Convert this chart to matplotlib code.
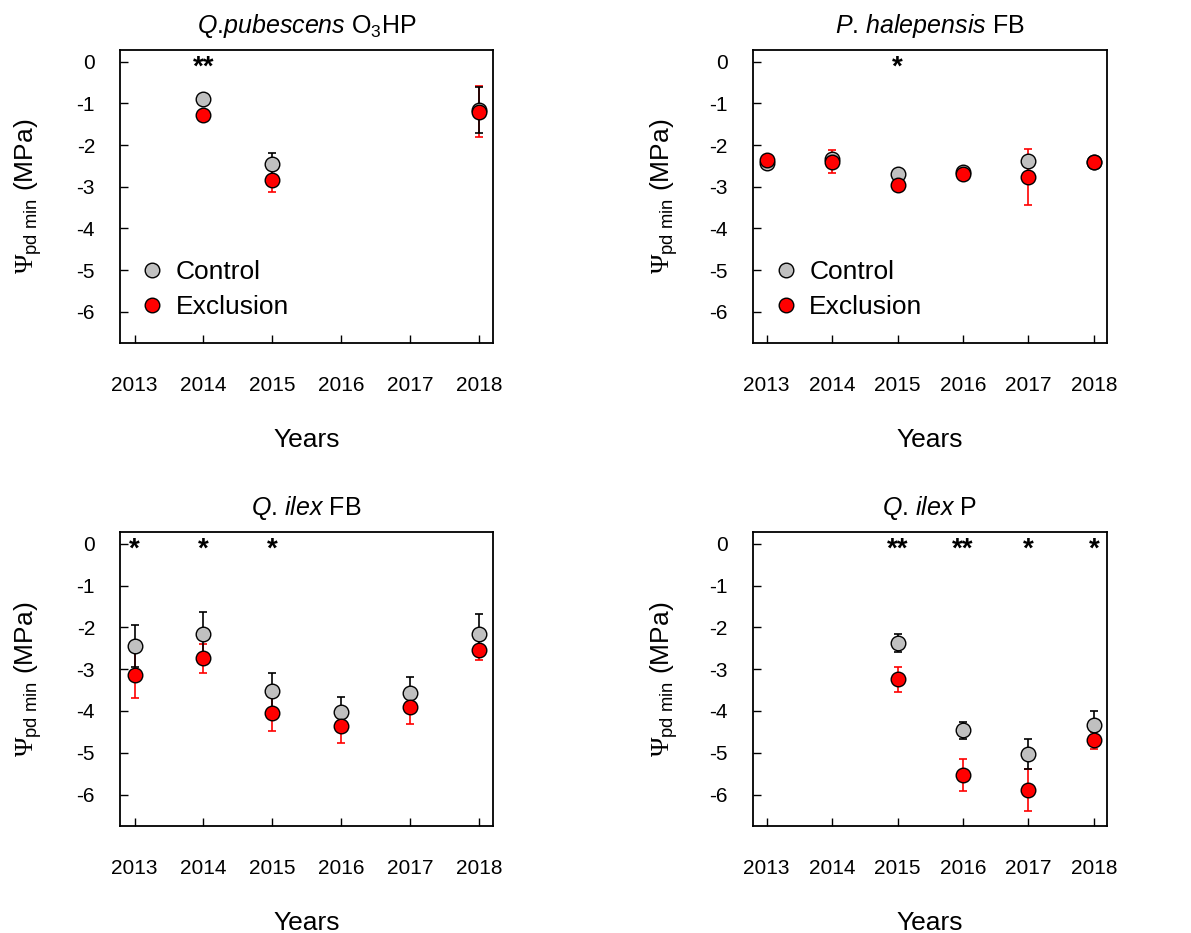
import numpy as np
import matplotlib
matplotlib.use('Agg')
import matplotlib.pyplot as plt

plt.rcParams['font.family'] = ['Liberation Sans', 'DejaVu Sans']
plt.rcParams['mathtext.fontset'] = 'custom'
plt.rcParams['mathtext.rm'] = 'Liberation Sans'
plt.rcParams['mathtext.it'] = 'Liberation Sans:italic'
# serif face used only for the Psi symbol in the axis label
plt.rcParams['mathtext.bf'] = 'Liberation Serif'

years = [2013, 2014, 2015, 2016, 2017, 2018]
nan = np.nan

# Q. pubescens O3HP
qp_ctrl = [nan, -0.90, -2.46, nan, nan, -1.16]
qp_ctrl_se = [nan, 0.05, 0.26, nan, nan, 0.55]
qp_excl = [nan, -1.29, -2.84, nan, nan, -1.20]
qp_excl_se = [nan, 0.08, 0.29, nan, nan, 0.61]
qp_stars = ['', '**', '', '', '', '']

# P. halepensis FB
ph_ctrl = [-2.44, -2.34, -2.69, -2.64, -2.39, -2.40]
ph_ctrl_se = [0.08, 0.10, 0.05, 0.08, 0.10, 0.05]
ph_excl = [-2.37, -2.40, -2.97, -2.69, -2.76, -2.41]
ph_excl_se = [0.08, 0.27, 0.05, 0.08, 0.67, 0.05]
ph_stars = ['', '', '*', '', '', '']

# Q. ilex FB
qf_ctrl = [-2.45, -2.15, -3.53, -4.03, -3.57, -2.17]
qf_ctrl_se = [0.50, 0.51, 0.44, 0.37, 0.39, 0.48]
qf_excl = [-3.13, -2.74, -4.05, -4.37, -3.91, -2.54]
qf_excl_se = [0.56, 0.35, 0.44, 0.40, 0.40, 0.23]
qf_stars = ['*', '*', '*', '', '', '']

# Q. ilex P
qi_ctrl = [nan, nan, -2.38, -4.46, -5.02, -4.34]
qi_ctrl_se = [nan, nan, 0.22, 0.20, 0.36, 0.34]
qi_excl = [nan, nan, -3.24, -5.53, -5.89, -4.70]
qi_excl_se = [nan, nan, 0.30, 0.38, 0.50, 0.20]
qi_stars = ['', '', '**', '**', '*', '*']

panels = [
    (r'$\mathit{Q}$.$\mathit{pubescens}$ O$_3$HP', qp_ctrl, qp_ctrl_se, qp_excl, qp_excl_se, qp_stars, True),
    (r'$\mathit{P}$. $\mathit{halepensis}$ FB', ph_ctrl, ph_ctrl_se, ph_excl, ph_excl_se, ph_stars, True),
    (r'$\mathit{Q}$. $\mathit{ilex}$ FB', qf_ctrl, qf_ctrl_se, qf_excl, qf_excl_se, qf_stars, False),
    (r'$\mathit{Q}$. $\mathit{ilex}$ P', qi_ctrl, qi_ctrl_se, qi_excl, qi_excl_se, qi_stars, False),
]

# axes positions [left, bottom, width, height]
positions = [
    [0.1008, 0.6324, 0.3132, 0.3140],
    [0.6322, 0.6324, 0.2973, 0.3140],
    [0.1008, 0.1147, 0.3132, 0.3151],
    [0.6322, 0.1147, 0.2973, 0.3151],
]

fig = plt.figure(figsize=(11.91, 9.33), dpi=100)

for pos, (title, c, cse, e, ese, stars, show_leg) in zip(positions, panels):
    ax = fig.add_axes(pos)
    ax.errorbar(years, e, yerr=ese, fmt='none', ecolor='red', elinewidth=1.2,
                capsize=3, capthick=1.2, zorder=2)
    ax.errorbar(years, c, yerr=cse, fmt='none', ecolor='black', elinewidth=1.2,
                capsize=3, capthick=1.2, zorder=2)
    ax.plot(years, c, 'o', ms=10.5, mfc='#c0c0c0', mec='black', mew=1.0,
            ls='none', label='Control', zorder=3)
    ax.plot(years, e, 'o', ms=10.5, mfc='#ff0000', mec='black', mew=1.0,
            ls='none', label='Exclusion', zorder=4)
    for yr, s in zip(years, stars):
        if s:
            ax.text(yr, 0.16, s, ha='center', va='top', fontsize=20,
                    fontweight='bold')

    ax.set_xlim(2012.79, 2018.2)
    ax.set_ylim(-6.75, 0.28)
    ax.set_xticks(years)
    ax.set_yticks([0, -1, -2, -3, -4, -5, -6])
    ax.set_yticklabels(['0', '-1', '-2', '-3', '-4', '-5', '-6'])
    ax.tick_params(direction='in', length=6, width=1.0, labelsize=15)
    ax.tick_params(axis='x', pad=24)
    ax.tick_params(axis='y', pad=18)
    for sp in ax.spines.values():
        sp.set_linewidth(1.3)

    ax.set_title(title, fontsize=18, pad=12)
    ax.set_xlabel('Years', fontsize=19)
    ax.xaxis.set_label_coords(0.5, -0.29)
    ax.set_ylabel(r'$\mathbf{\Psi}_{\mathrm{pd\ min}}$ (MPa)', fontsize=19)
    ax.yaxis.set_label_coords(-0.205, 0.5)

    if show_leg:
        ax.legend(loc='lower left', bbox_to_anchor=(-0.016, 0.019), frameon=False,
                  fontsize=19, handletextpad=0.15, labelspacing=0.4,
                  borderaxespad=0.3, handlelength=1.5)

fig.savefig('out.png', dpi=100)
